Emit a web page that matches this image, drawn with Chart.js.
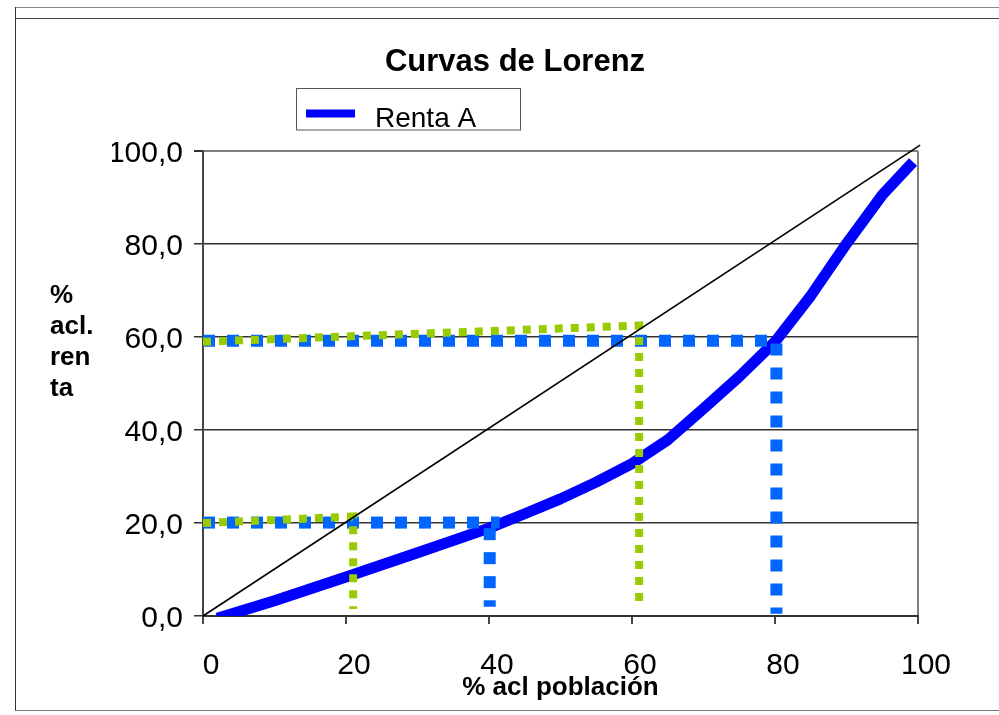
<!DOCTYPE html>
<html><head><meta charset="utf-8">
<script src="https://cdn.jsdelivr.net/npm/chart.js@4"></script>
<style>html,body{margin:0;padding:0;background:#fff;} canvas{display:block;}</style>
</head><body>
<canvas id="c" width="999" height="715"></canvas>
<script>
// ---- text ----
const chartTitle = 'Curvas de Lorenz';
const seriesName = 'Renta A';
const xAxisTitle = '% acl población';
const yAxisTitleLines = ['%', 'acl.', 'ren', 'ta'];

// ---- ticks ----
const xTickValues = [0, 20, 40, 60, 80, 100];
const xTickLabels = ['0', '20', '40', '60', '80', '100'];
const yTickValues = [0, 20, 40, 60, 80, 100];
const yTickLabels = ['0,0', '20,0', '40,0', '60,0', '80,0', '100,0'];

// ---- Lorenz curve (Renta A) ----
const rentaX = [2, 10, 20, 30, 40, 45, 50, 55, 60, 65, 70, 75, 80, 85, 90, 95, 99.3];
const rentaY = [-0.5, 3.3, 8.4, 13.6, 18.9, 22.0, 25.2, 28.8, 32.8, 37.9, 44.6, 51.5, 59.0, 68.9, 80.1, 90.6, 97.7];

// ---- equality line ----
const equalityX = [0, 100.3];
const equalityY = [0, 101.3];

// ---- guide lines ----
const greenHighX = [0, 61.0, 61.0];
const greenHighY = [59.0, 62.5, 3];
const greenLowX = [0, 21.0, 21.0];
const greenLowY = [20.0, 21.4, 1.5];
const blueHighX = [0, 80.2, 80.2];
const blueHighY = [59.2, 59.2, 0.5];
const blueLowHX = [0, 41.5];
const blueLowHY = [20.1, 20.1];
const blueLowVX = [40.1, 40.1];
const blueLowVY = [18.9, 2];

const FONT = '"Liberation Sans", Arial, sans-serif';
const toPts = (xs, ys) => xs.map((x, i) => ({ x: x, y: ys[i] }));

const decor = {
  id: 'decor',
  beforeDraw(chart) {
    const ctx = chart.ctx;
    ctx.save();
    ctx.lineWidth = 1;
    ctx.strokeStyle = '#8a8a8a';
    ctx.beginPath(); ctx.moveTo(15, 7.5); ctx.lineTo(999, 7.5); ctx.stroke();
    ctx.strokeStyle = '#444';
    ctx.beginPath(); ctx.moveTo(15, 18.5); ctx.lineTo(999, 18.5); ctx.stroke();
    ctx.strokeStyle = '#333';
    ctx.beginPath(); ctx.moveTo(15.5, 7); ctx.lineTo(15.5, 711); ctx.stroke();
    ctx.strokeStyle = '#777';
    ctx.beginPath(); ctx.moveTo(15, 710.5); ctx.lineTo(999, 710.5); ctx.stroke();
    ctx.restore();
  },
  afterDraw(chart) {
    const ctx = chart.ctx;
    ctx.save();
    // legend box
    const ds = chart.data.datasets.find(d => d.label === seriesName);
    ctx.strokeStyle = '#555';
    ctx.lineWidth = 1;
    ctx.strokeRect(296.5, 88.5, 224, 41.5);
    ctx.strokeStyle = ds.borderColor;
    ctx.lineWidth = 8;
    ctx.beginPath(); ctx.moveTo(306, 113.5); ctx.lineTo(355, 113.5); ctx.stroke();
    ctx.fillStyle = '#000';
    ctx.font = '28px ' + FONT;
    ctx.textAlign = 'left';
    ctx.textBaseline = 'alphabetic';
    ctx.fillText(ds.label, 375, 126.5);
    // y axis title (stacked lines)
    ctx.font = 'bold 26px ' + FONT;
    yAxisTitleLines.forEach((t, i) => ctx.fillText(t, 50, 303 + i * 31));
    ctx.restore();
  }
};

new Chart(document.getElementById('c'), {
  type: 'line',
  data: {
    datasets: [
      { label: seriesName, data: toPts(rentaX, rentaY), borderColor: '#0000FF', borderWidth: 11,
        pointRadius: 0, borderCapStyle: 'butt', borderJoinStyle: 'round', tension: 0, order: 5 },
      { label: 'guia azul 60', data: toPts(blueHighX, blueHighY), borderColor: '#0066FF', borderWidth: 12,
        borderDash: [12, 12], pointRadius: 0, order: 4 },
      { label: 'guia azul 20', data: toPts(blueLowHX, blueLowHY), borderColor: '#0066FF', borderWidth: 12,
        borderDash: [12, 12], pointRadius: 0, order: 4 },
      { label: 'guia azul 40', data: toPts(blueLowVX, blueLowVY), borderColor: '#0066FF', borderWidth: 12,
        borderDash: [12, 12], pointRadius: 0, order: 4 },
      { label: 'guia verde 60', data: toPts(greenHighX, greenHighY), borderColor: '#99CC00', borderWidth: 8,
        borderDash: [8, 8], pointRadius: 0, order: 2 },
      { label: 'guia verde 20', data: toPts(greenLowX, greenLowY), borderColor: '#99CC00', borderWidth: 8,
        borderDash: [8, 8], pointRadius: 0, order: 2 },
      { label: 'igualdad', data: toPts(equalityX, equalityY), borderColor: '#000', borderWidth: 1.6,
        pointRadius: 0, order: 0, clip: false }
    ]
  },
  options: {
    responsive: false,
    animation: false,
    devicePixelRatio: 1,
    layout: { padding: { top: 0, left: 112, right: 81, bottom: 0 } },
    plugins: {
      legend: { display: false },
      tooltip: { enabled: false },
      title: { display: true, text: chartTitle, color: '#000',
        font: { family: FONT, size: 31, weight: 'bold', lineHeight: 1.2 },
        padding: { top: 44, bottom: 70 } }
    },
    scales: {
      x: {
        type: 'linear', min: 0, max: 100,
        afterBuildTicks: s => { s.ticks = xTickValues.map(v => ({ value: v })); },
        afterFit: s => { s.height = 99; },
        ticks: { callback: v => xTickLabels[xTickValues.indexOf(v)], color: '#000',
          font: { family: FONT, size: 30 }, padding: 24, labelOffset: 8, maxRotation: 0, autoSkip: false },
        grid: { color: c => (c.tick && c.tick.value === 100) ? '#808080' : 'rgba(0,0,0,0)',
          tickColor: '#444', tickLength: 8, lineWidth: 2 },
        border: { color: '#333', width: 2 },
        title: { display: true, text: xAxisTitle, color: '#000',
          font: { family: FONT, size: 26, weight: 'bold', lineHeight: 1.2 }, padding: { top: 0, bottom: 12 } }
      },
      y: {
        type: 'linear', min: 0, max: 100,
        afterBuildTicks: s => { s.ticks = yTickValues.map(v => ({ value: v })); },
        afterFit: s => { s.width = 91; },
        ticks: { callback: v => yTickLabels[yTickValues.indexOf(v)], color: '#000',
          font: { family: FONT, size: 30 }, padding: 11, labelOffset: 3, autoSkip: false },
        grid: { color: c => (c.tick && c.tick.value === 100) ? '#808080' : '#333',
          lineWidth: c => (c.tick && c.tick.value === 100) ? 2 : 1.5,
          tickColor: '#333', tickLength: 9 },
        border: { color: '#444', width: 2 }
      }
    }
  },
  plugins: [decor]
});
</script>
</body></html>
